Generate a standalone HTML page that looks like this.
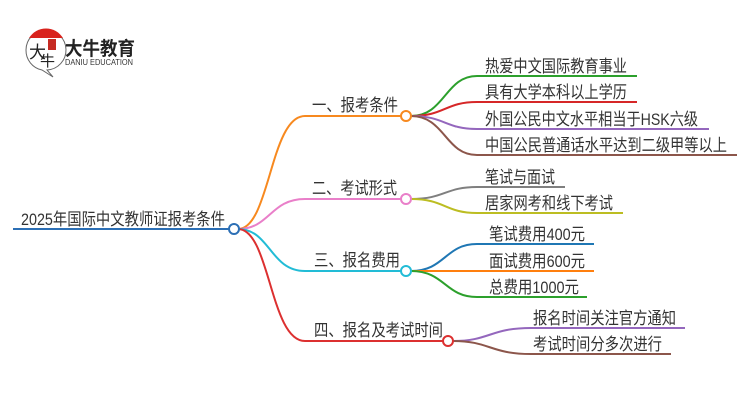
<!DOCTYPE html>
<html><head><meta charset="utf-8"><style>
html,body{margin:0;padding:0;background:#fff;}
svg{display:block;}
text{font-family:"Liberation Sans","Noto Sans CJK SC",sans-serif;fill:#333;}
</style></head><body>
<svg width="750" height="410" viewBox="0 0 750 410" xmlns="http://www.w3.org/2000/svg">
<!-- logo -->
<path d="M26 50 A20 20 0 1 1 47 70 L53 77 L42 70 A20 20 0 0 1 26 50 Z" fill="#fff" stroke="#666" stroke-width="1"/>
<path d="M29 38 A20 20 0 0 1 63 38 Z" fill="#d9231d"/>
<text x="29" y="58" font-size="17" style="fill:#222">大</text>
<text x="40" y="66" font-size="15" style="fill:#222">牛</text>
<rect x="48" y="39" width="8" height="11" fill="#c62a22"/>
<text x="65" y="55" font-size="19" font-weight="bold" textLength="70" lengthAdjust="spacingAndGlyphs" style="fill:#222">大牛教育</text>
<text x="65" y="65" font-size="8" textLength="68" lengthAdjust="spacingAndGlyphs" style="fill:#333">DANIU EDUCATION</text>

<g fill="none" stroke-width="2">
<line x1="13" y1="229" x2="229" y2="229" stroke="#2c6fb5"/>
<path d="M238 229 C270 229,270 116,305 116 L401 116" stroke="#f7891f"/>
<path d="M238 229 C270 229,270 199,305 199 L401 199" stroke="#e97fc9"/>
<path d="M238 229 C270 229,270 271,305 271 L401 271" stroke="#22bcd6"/>
<path d="M238 229 C270 229,270 341,305 341 L443 341" stroke="#dc3030"/>
<path d="M411 116 C445 116,445 76,477 76 L637 76" stroke="#2ca02c"/>
<path d="M411 116 C445 116,445 102,477 102 L637 102" stroke="#d62728"/>
<path d="M411 116 C445 116,445 129,477 129 L709 129" stroke="#9467bd"/>
<path d="M411 116 C445 116,445 155,477 155 L737 155" stroke="#8c564b"/>
<path d="M411 199 C445 199,445 187,477 187 L565 187" stroke="#7f7f7f"/>
<path d="M411 199 C445 199,445 213,477 213 L623 213" stroke="#bcbd22"/>
<path d="M411 271 C445 271,445 244,477 244 L594 244" stroke="#1f77b4"/>
<path d="M411 271 L594 271" stroke="#ff7f0e"/>
<path d="M411 271 C445 271,445 297,477 297 L587 297" stroke="#2ca02c"/>
<path d="M453 341 C490 341,490 328,531 328 L685 328" stroke="#9467bd"/>
<path d="M453 341 C490 341,490 354,531 354 L671 354" stroke="#8c564b"/>
</g>
<g fill="#fff" stroke-width="2">
<circle cx="234" cy="229" r="5" stroke="#2c6fb5"/>
<circle cx="406" cy="116" r="5" stroke="#f7891f"/>
<circle cx="406" cy="199" r="5" stroke="#e97fc9"/>
<circle cx="406" cy="271" r="5" stroke="#22bcd6"/>
<circle cx="448" cy="341" r="5" stroke="#dc3030"/>
</g>
<g font-size="17" lengthAdjust="spacingAndGlyphs">
<text x="21" y="225" textLength="204" lengthAdjust="spacingAndGlyphs">2025年国际中文教师证报考条件</text>
<text x="312" y="111" textLength="86" lengthAdjust="spacingAndGlyphs">一、报考条件</text>
<text x="312" y="194" textLength="85" lengthAdjust="spacingAndGlyphs">二、考试形式</text>
<text x="314" y="266" textLength="86" lengthAdjust="spacingAndGlyphs">三、报名费用</text>
<text x="314" y="336" textLength="129" lengthAdjust="spacingAndGlyphs">四、报名及考试时间</text>
<text x="485" y="72" textLength="142" lengthAdjust="spacingAndGlyphs">热爱中文国际教育事业</text>
<text x="485" y="98" textLength="142" lengthAdjust="spacingAndGlyphs">具有大学本科以上学历</text>
<text x="485" y="125" textLength="213" lengthAdjust="spacingAndGlyphs">外国公民中文水平相当于HSK六级</text>
<text x="485" y="151" textLength="242" lengthAdjust="spacingAndGlyphs">中国公民普通话水平达到二级甲等以上</text>
<text x="485" y="183" textLength="70" lengthAdjust="spacingAndGlyphs">笔试与面试</text>
<text x="485" y="209" textLength="128" lengthAdjust="spacingAndGlyphs">居家网考和线下考试</text>
<text x="489" y="240" textLength="96" lengthAdjust="spacingAndGlyphs">笔试费用400元</text>
<text x="489" y="267" textLength="96" lengthAdjust="spacingAndGlyphs">面试费用600元</text>
<text x="489" y="293" textLength="90" lengthAdjust="spacingAndGlyphs">总费用1000元</text>
<text x="533" y="324" textLength="143" lengthAdjust="spacingAndGlyphs">报名时间关注官方通知</text>
<text x="533" y="350" textLength="129" lengthAdjust="spacingAndGlyphs">考试时间分多次进行</text>
</g>
</svg>
</body></html>
